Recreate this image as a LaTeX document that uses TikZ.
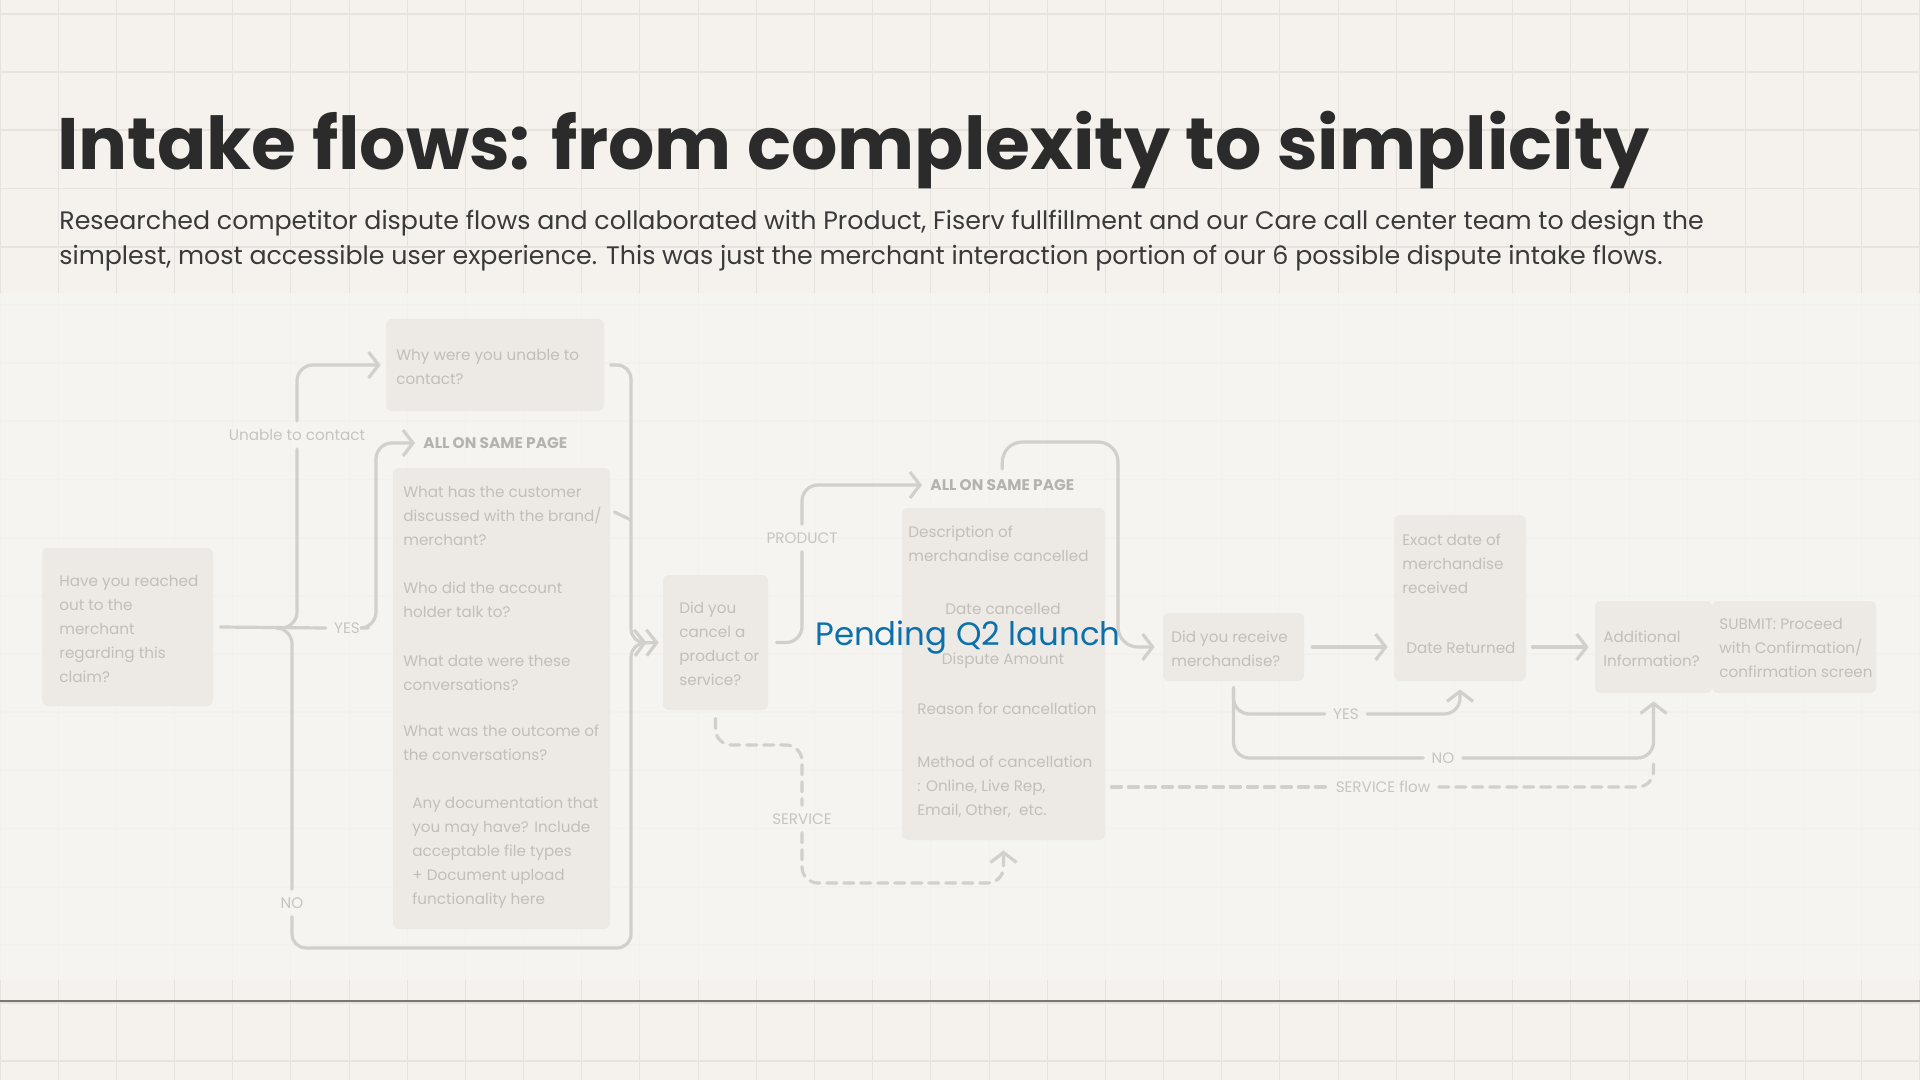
\documentclass[tikz,border=0pt]{standalone}
\usepackage{fontspec}
\setmainfont{Poppins}
\usetikzlibrary{arrows.meta}
\definecolor{bg}{HTML}{F5F2EE}
\definecolor{gridc}{HTML}{E6E2DD}
\definecolor{band}{HTML}{F7F5F1}
\definecolor{boxc}{HTML}{EDEAE6}
\definecolor{linec}{HTML}{D3CFCB}
\definecolor{txtc}{HTML}{C2BEBA}
\definecolor{labc}{HTML}{C8C4C0}
\definecolor{allc}{HTML}{B6B2AE}
\definecolor{titlec}{HTML}{2B2B2B}
\definecolor{subc}{HTML}{3A3A3A}
\definecolor{bluec}{HTML}{0C70AA}
\definecolor{sepc}{HTML}{7A7674}
\begin{document}
\begin{tikzpicture}[x=0.5pt,y=-0.5pt,
  qbox/.style={fill=boxc, rounded corners=3pt, inner sep=0pt},
  dtxt/.style={text=txtc, font=\fontsize{7.6}{12}\selectfont, align=left, anchor=west, inner sep=0pt},
  ctxt/.style={text=txtc, font=\fontsize{7.6}{12}\selectfont, inner sep=0pt},
  lab/.style={text=labc, font=\fontsize{7.6}{9}\selectfont, inner sep=4pt},
  allp/.style={text=allc, font=\bfseries\fontsize{7.7}{9}\selectfont, anchor=west, inner sep=0pt},
  conn/.style={draw=linec, line width=1.6pt, rounded corners=8pt, line cap=round},
  tip/.style={-{Straight Barb[length=5pt,width=13pt,line width=1.6pt]}},
  dsh/.style={dash pattern=on 5pt off 3.5pt}
]
% background
\fill[bg] (0,0) rectangle (1920,1080);
\useasboundingbox (0,0) rectangle (1920,1080);
\foreach \i in {0,...,33} \draw[gridc, line width=0.5pt] ({\i*58.18},0) -- ({\i*58.18},1080);
\foreach \i in {0,...,18} \draw[gridc, line width=0.9pt] (0,{14+\i*58.18}) -- (1920,{14+\i*58.18});
% diagram band
\fill[band, opacity=0.8] (0,293) rectangle (1920,980);
% separator
\draw[sepc, line width=1.2pt] (0,1001) -- (1920,1001);

% title and subtitle
\node[anchor=base west, inner sep=0pt, text=titlec, font=\bfseries\fontsize{36.4}{44}\selectfont] (title) at (57,170) {Intake flows: from complexity to simplicity};
\node[anchor=base west, inner sep=0pt, text=subc, font=\fontsize{12.65}{17.5}\selectfont] (sub1) at (59,230) {Researched competitor dispute flows and collaborated with Product, Fiserv fullfillment and our Care call center team to design the};
\node[anchor=base west, inner sep=0pt, text=subc, font=\fontsize{12.65}{17.5}\selectfont] (sub2) at (59,265) {simplest, most accessible user experience. This was just the merchant interaction portion of our 6 possible dispute intake flows.};

% boxes
\node[qbox, minimum width=85.5pt, minimum height=79pt] (q1) at (127.5,627) {};
\node[qbox, minimum width=109pt, minimum height=46pt] (q2) at (495,365) {};
\node[qbox, minimum width=108.5pt, minimum height=230.5pt] (b1) at (501.5,698.5) {};
\node[qbox, minimum width=52.5pt, minimum height=67.5pt] (q3) at (715.5,642.5) {};
\node[qbox, minimum width=101.5pt, minimum height=166pt] (b2) at (1003.5,674) {};
\node[qbox, minimum width=70.5pt, minimum height=34pt] (q4) at (1233.5,647) {};
\node[qbox, minimum width=66pt, minimum height=83pt] (b3) at (1460,598) {};
\node[qbox, minimum width=58.5pt, minimum height=46pt] (q5) at (1653.5,647) {};
\node[qbox, minimum width=82pt, minimum height=46pt] (q6) at (1794,647) {};

% box texts
\node[dtxt] (t1) at (59,629) {Have you reached\\out to the\\merchant\\regarding this\\claim?};
\node[dtxt] (t2) at (396,366.5) {Why were you unable to\\contact?};
\node[dtxt] (t3) at (403,516) {What has the customer\\discussed with the brand/\\merchant?};
\node[dtxt] (t4) at (403,599.5) {Who did the account\\holder talk to?};
\node[dtxt] (t5) at (403,673) {What date were these\\conversations?};
\node[dtxt] (t6) at (403,742.5) {What was the outcome of\\the conversations?};
\node[dtxt] (t7) at (412,852.5) {Any documentation that\\you may have? Include\\acceptable file types\\+ Document upload\\functionality here};
\node[dtxt] (t8) at (679,643.5) {Did you\\cancel a\\product or\\service?};
\node[dtxt] (t9) at (908,543.5) {Description of\\merchandise cancelled};
\node[ctxt] (t10) at (1003,609) {Date cancelled};
\node[ctxt] (t11) at (1003,661) {Dispute Amount};
\node[dtxt] (t12) at (917,709) {Reason for cancellation};
\node[dtxt] (t13) at (917,787) {Method of cancellation\\: Online, Live Rep,\\Email, Other,\ \ etc.};
\node[dtxt] (t14) at (1171,649) {Did you receive\\merchandise?};
\node[dtxt] (t15) at (1402,564) {Exact date of\\merchandise\\received};
\node[dtxt] (t16) at (1406,648) {Date Returned};
\node[dtxt] (t17) at (1603,649) {Additional\\Information?};
\node[dtxt] (t18) at (1719,648) {SUBMIT: Proceed\\with Confirmation/\\confirmation screen};

% headers
\node[allp] (all1) at (423,443) {ALL ON SAME PAGE};
\node[allp] (all2) at (930,485) {ALL ON SAME PAGE};

% labels
\node[lab] (unable) at (297,435) {Unable to contact};
\node[lab] (yes1) at (347,628) {YES};
\node[lab] (no1) at (292,903) {NO};
\node[lab] (prod) at (802,538) {PRODUCT};
\node[lab] (serv) at (802,819) {SERVICE};
\node[lab] (yes2) at (1346,714) {YES};
\node[lab] (no2) at (1443,758) {NO};
\node[lab] (sflow) at (1383,787) {SERVICE flow};

\coordinate (j1) at (278,628);
\coordinate (s1) at (802,745);
\coordinate (s2) at (1003.5,883);
\coordinate (m1) at (1653.5,763);
\coordinate (l1) at (1118,442);

% connectors: first question
\draw[conn] ([xshift=3.5pt]q1.east) -- (yes1.west);
\draw[conn, tip] (yes1.east) -| (376,480) |- ([xshift=-4pt]all1.west);
\draw[conn] (j1) -| (unable.south);
\draw[conn, tip] (unable.north) |- ([xshift=-2.5pt]q2.west);
\draw[conn] (j1) -| (no1.north);
\draw[conn, rounded corners=7pt, tip] ([xshift=3pt]q2.east) -| (631,643) -- ([xshift=-8pt]q3.west);
\draw[conn, rounded corners=7pt, tip] (no1.south) |- (631,948) -- (631,643) -- ([xshift=-2pt]q3.west);
\draw[conn, rounded corners=3pt] ([xshift=2pt]b1.east |- 0,512) -- (631,520);

% second question
\draw[conn] ([xshift=4pt]q3.east) -| (prod.south);
\draw[conn, tip] (prod.north) |- ([xshift=-4pt]all2.west);
\draw[conn, dsh] ([yshift=-4pt]q3.south) |- (s1) -- (serv.north);
\draw[conn, dsh, tip] (serv.south) |- (s2) -- ([yshift=-5pt]b2.south);
\draw[conn, rounded corners=10pt, tip] ([yshift=5pt]all2.north) |- (l1) |- ([xshift=-4pt]q4.west);

% third question
\draw[conn, tip] ([xshift=4pt]q4.east) -- ([xshift=-3pt]b3.west |- q4.east);
\draw[conn, tip] ([xshift=3pt]b3.east |- q5.west) -- ([xshift=-3pt]q5.west);
\draw[conn] ([yshift=-3pt]q4.south) |- (yes2.west);
\draw[conn, tip] (yes2.east) -| ([yshift=-4pt]b3.south);
\draw[conn] ([yshift=-3pt]q4.south) |- (no2.west);
\draw[conn, tip] (no2.east) -| ([yshift=-4pt]q5.south);
\draw[conn, dsh] ([xshift=3pt]b2.east |- sflow.west) -- (sflow.west);
\draw[conn, dsh] (sflow.east) -| (m1);

% overlay note
\node[anchor=base west, inner sep=0pt, text=bluec, font=\fontsize{16.2}{19}\selectfont] (pending) at (815,645) {Pending Q2 launch};
\end{tikzpicture}
\end{document}
